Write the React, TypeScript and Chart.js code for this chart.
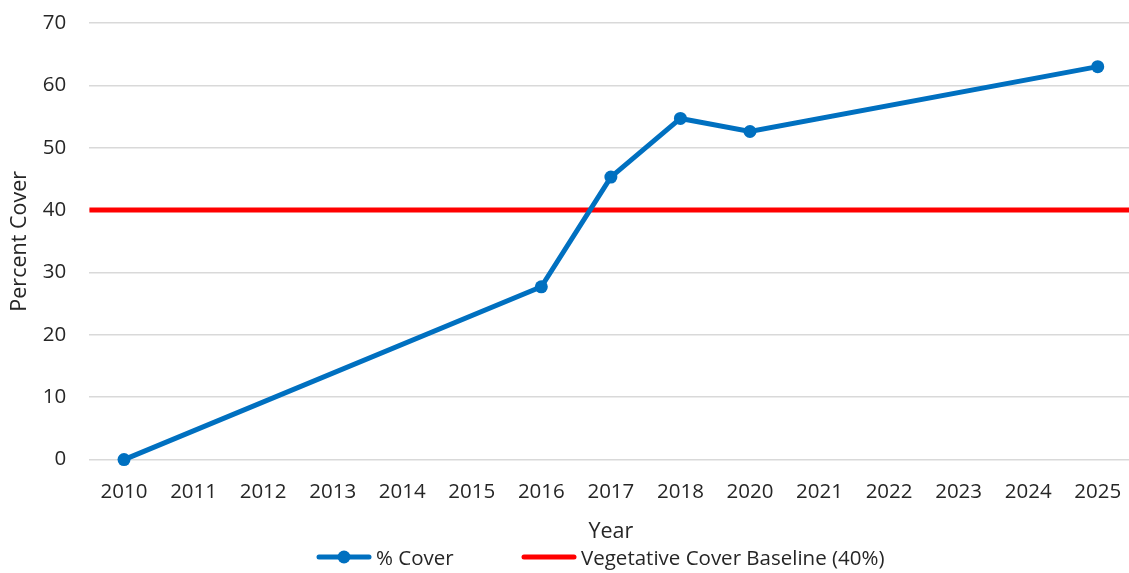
import React, { useEffect, useRef } from "react";
import { Chart, registerables } from "chart.js";

Chart.register(...registerables);

// Survey years on the category axis (no survey in 2019)
const years = [
  "2010", "2011", "2012", "2013", "2014", "2015", "2016", "2017", "2018",
  "2020", "2021", "2022", "2023", "2024", "2025",
];

// Measured vegetative cover, percent; null where no survey was taken
const percentCover: (number | null)[] = [
  0, null, null, null, null, null, 27.7, 45.3, 54.7,
  52.6, null, null, null, null, 63,
];

// Baseline target, spanning the whole plot width
const baselineValue = 40;

const yTicks = { min: 0, max: 70, step: 10 };

const seriesNames = ["% Cover", "Vegetative Cover Baseline (40%)"];

const BLUE = "#0070C0";
const RED = "#FF0000";
const TEXT = "#262626";
const FONT = "'Open Sans', 'Noto Sans', sans-serif";

function LegendSymbol({ color, marker }: { color: string; marker: boolean }) {
  return (
    <svg width={56} height={16} style={{ display: "block" }}>
      <line x1={3} y1={8} x2={53} y2={8} stroke={color} strokeWidth={5} strokeLinecap="round" />
      {marker && <circle cx={28} cy={8} r={6.5} fill={color} />}
    </svg>
  );
}

export default function App() {
  const canvasRef = useRef<HTMLCanvasElement | null>(null);

  useEffect(() => {
    document.body.style.margin = "0";
    const canvas = canvasRef.current;
    if (!canvas) return;

    const chart = new Chart(canvas, {
      type: "line",
      data: {
        labels: years,
        datasets: [
          {
            label: seriesNames[0],
            data: percentCover,
            borderColor: BLUE,
            backgroundColor: BLUE,
            borderWidth: 5,
            pointRadius: 6.5,
            pointBackgroundColor: BLUE,
            pointBorderWidth: 0,
            spanGaps: true,
            tension: 0,
            clip: false,
            xAxisID: "x",
          },
          {
            label: seriesNames[1],
            data: [
              { x: 0, y: baselineValue },
              { x: 1, y: baselineValue },
            ],
            borderColor: RED,
            backgroundColor: RED,
            borderWidth: 5,
            pointRadius: 0,
            xAxisID: "x2",
          },
        ] as any,
      },
      options: {
        animation: false,
        responsive: false,
        maintainAspectRatio: false,
        layout: { padding: { top: 23, right: 0, left: 5, bottom: 28.5 } },
        plugins: {
          tooltip: { enabled: false },
          legend: { display: false },
        },
        scales: {
          x: {
            type: "category",
            offset: true,
            grid: { display: false, drawTicks: true, tickLength: 20 },
            border: { display: false },
            ticks: {
              color: TEXT,
              font: { family: FONT, size: 20.5 },
              padding: 0,
              maxRotation: 0,
              autoSkip: false,
            },
            title: {
              display: true,
              text: "Year",
              color: TEXT,
              font: { family: FONT, size: 21.5 },
              padding: { top: 14.5, bottom: 0 },
            },
          },
          x2: {
            type: "linear",
            display: false,
            min: 0,
            max: 1,
          },
          y: {
            min: yTicks.min,
            max: yTicks.max,
            grid: {
              color: "#d9d9d9",
              lineWidth: 1.5,
              drawTicks: true,
              tickLength: 23,
              tickColor: "rgba(0,0,0,0)",
            },
            border: { display: false },
            ticks: {
              stepSize: yTicks.step,
              color: TEXT,
              font: { family: FONT, size: 20.5 },
              padding: 0,
            },
            title: {
              display: true,
              text: "Percent Cover",
              color: TEXT,
              font: { family: FONT, size: 21.5 },
              padding: { top: 2, bottom: 10 },
            },
          },
        },
      } as any,
    });

    return () => chart.destroy();
  }, []);

  const legendText: React.CSSProperties = {
    fontFamily: FONT,
    fontSize: 20.5,
    color: TEXT,
    whiteSpace: "nowrap",
    marginLeft: 4,
    lineHeight: "28px",
  };

  return (
    <div style={{ position: "relative", width: 1129, height: 573, overflow: "hidden" }}>
      <canvas ref={canvasRef} width={1139} height={573} style={{ display: "block" }} />
      <div style={{ position: "absolute", left: 316, top: 543, display: "flex", alignItems: "center" }}>
        <LegendSymbol color={BLUE} marker={true} />
        <span style={legendText}>{seriesNames[0]}</span>
      </div>
      <div style={{ position: "absolute", left: 521, top: 543, display: "flex", alignItems: "center" }}>
        <LegendSymbol color={RED} marker={false} />
        <span style={legendText}>{seriesNames[1]}</span>
      </div>
    </div>
  );
}
